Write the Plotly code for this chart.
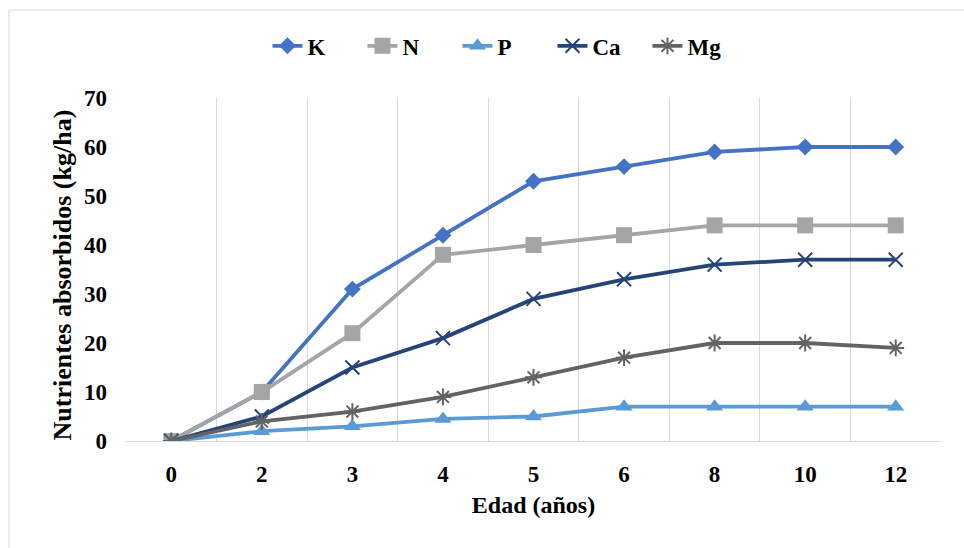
import plotly.graph_objects as go

edad = ["0", "2", "3", "4", "5", "6", "8", "10", "12"]
K = [0, 10, 31, 42, 53, 56, 59, 60, 60]
N = [0, 10, 22, 38, 40, 42, 44, 44, 44]
P = [0, 2, 3, 4.5, 5, 7, 7, 7, 7]
Ca = [0, 5, 15, 21, 29, 33, 36, 37, 37]
Mg = [0, 4, 6, 9, 13, 17, 20, 20, 19]

series = [
    ("K", K, "#4472C4", "diamond", 13, 0),
    ("N", N, "#A5A5A5", "square", 16, 0),
    ("P", P, "#5B9BD5", "triangle-up", 15, 0),
    ("Ca", Ca, "#264478", "x-thin-open", 14, 2),
    ("Mg", Mg, "#636363", "asterisk-open", 14, 2),
]

font = "Liberation Serif, Times New Roman, serif"
fig = go.Figure()
for name, vals, col, sym, size, lw in series:
    marker = dict(symbol=sym, size=size, color=col)
    if lw:
        marker["line"] = dict(color=col, width=lw)
    fig.add_trace(go.Scatter(
        x=edad, y=vals, name=name, mode="lines+markers",
        line=dict(color=col, width=3.8), marker=marker,
    ))

fig.update_layout(
    width=964, height=548,
    margin=dict(l=126, r=23, t=98, b=107),
    paper_bgcolor="white", plot_bgcolor="white",
    font=dict(family=font, size=22, color="black"),
    showlegend=True,
    legend=dict(orientation="h", x=0.465, xanchor="center", y=1.152, yanchor="middle",
                font=dict(family=font, size=23, color="black", weight="bold"),
                entrywidth=50, entrywidthmode="pixels", tracegroupgap=0),
    xaxis=dict(
        type="category", range=[-0.5, 8.5], tickson="boundaries",
        showgrid=True, gridcolor="#D9D9D9", gridwidth=1,
        showline=True, linecolor="#D9D9D9", linewidth=1, mirror=False,
        ticks="", ticklabelstandoff=12,
        tickfont=dict(family=font, size=23, weight="bold"),
        title=dict(text="<b>Edad (años)</b>", font=dict(family=font, size=24), standoff=10),
        zeroline=False,
    ),
    yaxis=dict(
        range=[0, 70], dtick=10, showgrid=False, zeroline=False, showline=False,
        ticks="", ticklabelstandoff=18,
        tickfont=dict(family=font, size=23, weight="bold"),
    ),
    annotations=[dict(text="<b>Nutrientes absorbidos (kg/ha)</b>", textangle=-90,
                      xref="paper", yref="paper", x=(62 - 126) / 815, y=(441 - 275.5) / 343,
                      xanchor="center", yanchor="middle", showarrow=False,
                      font=dict(family=font, size=26, color="black"))],
    shapes=[dict(type="rect", xref="paper", yref="paper",
                 x0=(9 - 126) / 815, x1=(975 - 126) / 815,
                 y0=(441 - 560) / 343, y1=(441 - 10) / 343,
                 line=dict(color="#D9D9D9", width=1), layer="below")],
)

fig.write_html("out.html")
